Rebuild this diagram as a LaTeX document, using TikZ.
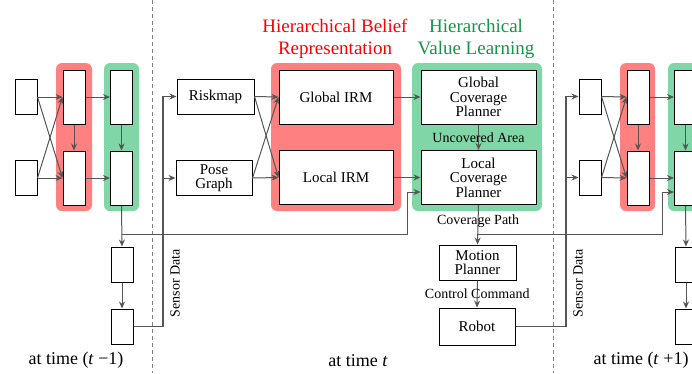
\documentclass[tikz,border=0pt]{standalone}
\usepackage{fontspec}
\setmainfont{Liberation Serif}
\usetikzlibrary{arrows.meta}
\definecolor{beliefred}{RGB}{255,128,128}
\definecolor{valuegreen}{RGB}{128,214,166}
\definecolor{titlegreen}{RGB}{20,150,70}
\definecolor{wirecol}{RGB}{85,85,85}

\begin{document}
\begin{tikzpicture}[x=1pt,y=-1pt,
    box/.style={draw=black,fill=white,line width=1pt,inner sep=0pt,align=center,
      font=\fontsize{15}{14.5}\selectfont},
    slim/.style={box,minimum width=22pt,minimum height=35pt},
    tall/.style={box,minimum width=22pt,minimum height=54pt},
    wide/.style={box,minimum width=114pt,minimum height=54pt},
    mid/.style={box,minimum width=77pt,minimum height=35pt},
    bg/.style={rounded corners=6pt},
    flow/.style={draw=wirecol,line width=1pt,-{Stealth[length=7pt,width=6pt]}},
    lab/.style={font=\fontsize{14}{14}\selectfont,inner sep=1pt},
    stamp/.style={font=\fontsize{18}{18}\selectfont}]

    \useasboundingbox (0,0) rectangle (692,373);

    % Time separators
    \foreach \x in {152,553} {
      \draw[gray,line width=0.6pt,dash pattern=on 4pt off 3pt] (\x,0) -- (\x,373);
    }

    % Coloured backgrounds
    \fill[beliefred,bg] (56,63) rectangle (92,211);
    \fill[valuegreen,bg] (104,63) rectangle (139,211);
    \fill[beliefred,bg] (271,63) rectangle (401,211);
    \fill[valuegreen,bg] (412,63) rectangle (542,211);
    \fill[beliefred,bg] (620,63) rectangle (655,211);
    \fill[valuegreen,bg] (668,63) rectangle (710,211);

    \node[font=\fontsize{19}{22}\selectfont,align=center,text=red] (hbr) at (335,39)
      {Hierarchical Belief\\Representation};
    \node[font=\fontsize{19}{22}\selectfont,align=center,text=titlegreen] (hvl) at (476,39)
      {Hierarchical\\Value Learning};

    % Step t-1
    \node[slim] (a1) at (26,97) {};
    \node[slim] (a2) at (26,178) {};
    \node[tall] (b1) at (74,97) {};
    \node[tall] (b2) at (74,178) {};
    \node[tall] (c1) at (121.5,97) {};
    \node[tall] (c2) at (121.5,178) {};
    \node[slim] (d1) at (122,264.5) {};
    \node[slim] (d2) at (122,326.5) {};

    % Step t
    \node[mid] (risk) at (215.5,96.5) {Riskmap};
    \node[mid,minimum width=76pt] (pose) at (214,178) {Pose\\Graph};
    \node[wide] (girm) at (336,97) {Global IRM};
    \node[wide] (lirm) at (336,177.5) {Local IRM};
    \node[wide,minimum width=115pt] (gcp) at (478.5,97) {Global\\Coverage\\Planner};
    \node[wide,minimum width=115pt] (lcp) at (478.5,177.5) {Local\\Coverage\\Planner};
    \node[mid] (motion) at (477.5,262.5) {Motion\\Planner};
    \node[mid,minimum width=76pt,minimum height=37pt] (robot) at (477,326.5) {Robot};

    % Step t+1
    \node[slim] (e1) at (590,96.5) {};
    \node[slim] (e2) at (590,177.5) {};
    \node[tall] (f1) at (638,97) {};
    \node[tall] (f2) at (638,178) {};
    \node[tall] (g1) at (685.5,97) {};
    \node[tall] (g2) at (685.5,178) {};
    \node[slim] (h1) at (686,264.5) {};
    \node[slim] (h2) at (686,326.5) {};

    % Links inside each step
    \foreach \src/\dst in {a1/b1,a1/b2,a2/b1,a2/b2,e1/f1,e1/f2,e2/f1,e2/f2,
        risk/girm,risk/lirm,pose/girm,pose/lirm} {
      \draw[flow] (\src.east) -- (\dst.west);
    }
    \foreach \src/\dst in {b1/c1,b2/c2,f1/g1,f2/g2,girm/gcp,lirm/lcp} {
      \draw[flow] (\src.east) -- (\dst.west);
    }
    \foreach \src/\dst in {b1/b2,c1/c2,c2/d1,d1/d2,f1/f2,g1/g2,g2/h1,h1/h2} {
      \draw[flow] (\src.south) -- (\dst.north);
    }
    \draw[flow] (gcp.south) -- node[lab] (uncov) {Uncovered Area} (lcp.north);
    \draw[flow] (lcp.south) -- node[lab,pos=0.42] (cpath) {Coverage Path} (motion.north);
    \draw[flow] (motion.south) -- node[lab] (ccmd) {Control Command} (robot.north);

    % Hand-over to the next step
    \coordinate (j1) at (122,234);
    \coordinate (k1) at (407,192);
    \draw[flow] (j1) -| (k1) -- (k1 -| lcp.west);
    \coordinate (j2) at (477,234);
    \coordinate (k2) at (662,192);
    \draw[flow] (j2) -| (k2) -- (k2 -| g2.west);

    % Sensor data
    \coordinate (s1) at (163,326.5);
    \draw[flow,line width=1.3pt] (d2.east) -- (s1) |- (risk.west);
    \draw[flow] (s1) |- (pose.west);
    \node[lab,rotate=90] (sd1) at (175,283) {Sensor Data};
    \coordinate (s2) at (566,326.5);
    \draw[flow,line width=1.3pt] (robot.east) -- (s2) |- (e1.west);
    \draw[flow] (s2) |- (e2.west);
    \node[lab,rotate=90] (sd2) at (578,283) {Sensor Data};

    \node[stamp] (tm1) at (76,360) {at time (\textit{t} −1)};
    \node[stamp] (tm2) at (358,361) {at time \textit{t}};
    \node[stamp] (tm3) at (641,360) {at time (\textit{t} +1)};
  \end{tikzpicture}
\end{document}
